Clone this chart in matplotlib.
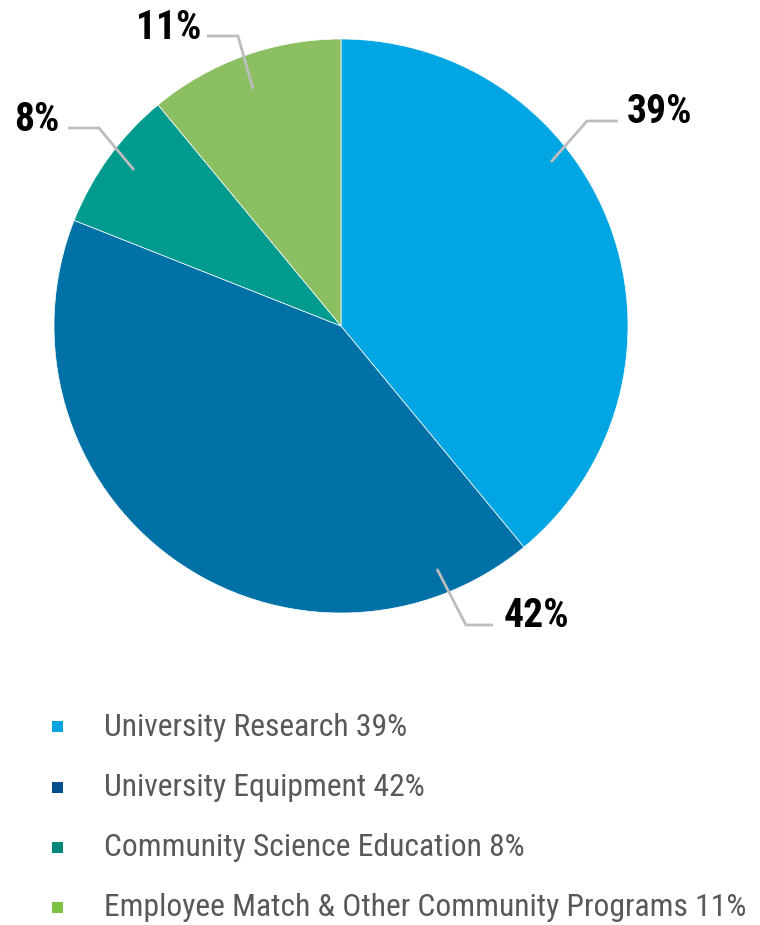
import matplotlib
matplotlib.use("Agg")
import matplotlib.pyplot as plt
from matplotlib import font_manager

# data
categories = ["University Research", "University Equipment",
              "Community Science Education", "Employee Match & Other Community Programs"]
shares = [39, 42, 8, 11]
pie_colors = ["#00A6E3", "#0071A7", "#009A8F", "#8BBF62"]
legend_colors = ["#00A3E0", "#004F8C", "#00877A", "#7DC242"]

# pick a condensed face if one is around
available = {f.name for f in font_manager.fontManager.ttflist}
cond = next((n for n in ["Roboto Condensed", "Liberation Sans Narrow", "Archivo Narrow",
                         "PT Sans Narrow", "Barlow Condensed"]
             if n in available), "DejaVu Sans")
fam = [cond, "DejaVu Sans"]

W, H = 760, 925
fig = plt.figure(figsize=(W / 100, H / 100), dpi=100)
ax = fig.add_axes([0, 0, 1, 1])

cx, cy, r = 341, H - 326, 287
ax.pie(shares, colors=pie_colors, startangle=90, counterclock=False,
       center=(cx, cy), radius=r, frame=True,
       wedgeprops=dict(linewidth=0.5, edgecolor="white"))

ax.set_xlim(0, W)
ax.set_ylim(0, H)
ax.set_aspect("equal")
ax.axis("off")

# leader lines (pixel coords from top) and label anchors
leaders = [
    [(551, 162), (587, 121), (618, 121)],
    [(437, 569), (466, 625), (493, 625)],
    [(134, 170), (99, 128), (68, 128)],
    [(253, 89), (238, 36), (207, 36)],
]
label_pos = [(627, 112, "left"), (504, 616, "left"), (59, 120, "right"), (201, 28, "right")]

for pts, (lx, ly, ha), s in zip(leaders, label_pos, shares):
    xs = [p[0] for p in pts]
    ys = [H - p[1] for p in pts]
    ax.plot(xs, ys, color="#BDBDBD", lw=2, solid_capstyle="butt")
    ax.text(lx, H - ly, f"{s}%", ha=ha, va="center", fontsize=28.5,
            fontweight="bold", family=fam, color="black")

# legend
row_y = [727, 788, 848, 908]
for y, c, name, s in zip(row_y, legend_colors, categories, shares):
    ax.add_patch(plt.Rectangle((52, H - y - 5), 11, 11, color=c, lw=0))
    ax.text(104, H - y, f"{name} {s}%", ha="left", va="center", fontsize=22.8,
            family=fam, color="#58595B")

fig.savefig("out.png", dpi=100)
